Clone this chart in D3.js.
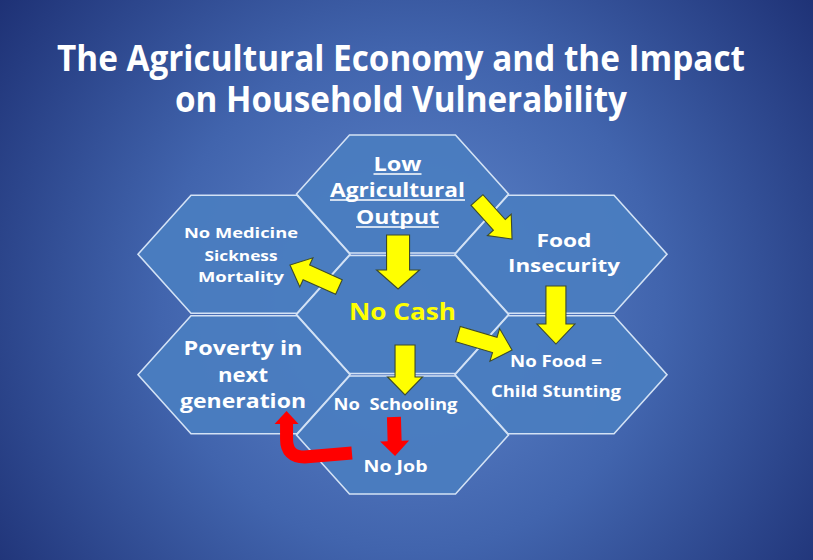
<!DOCTYPE html>
<html>
<head>
<meta charset="utf-8">
<script src="https://cdn.jsdelivr.net/npm/d3@7/dist/d3.min.js"></script>
<style>
html,body{margin:0;padding:0;background:#fff;}
svg{display:block;}
</style>
</head>
<body>
<svg id="chart" width="813" height="560"></svg>
<script>
// ---------------- DATA ----------------
const titleLines = ["The Agricultural Economy and the Impact", "on Household Vulnerability"];
const nodeNames = ["Low Agricultural Output", "No Medicine Sickness Mortality", "Food Insecurity",
                   "No Cash", "Poverty in next generation", "No Food = Child Stunting", "No Schooling / No Job"];
const nodeLines = [["Low", "Agricultural", "Output"], ["No Medicine", "Sickness", "Mortality"],
                   ["Food", "Insecurity"], ["No Cash"], ["Poverty in", "next", "generation"],
                   ["No Food =", "Child Stunting"], ["No  Schooling", "No Job"]];
// honeycomb grid position of each hexagon (column, half-row)
const nodeCol = [0, -1, 1, 0, -1, 1, 0];
const nodeRow = [0, 1, 1, 2, 3, 3, 4];
// causal links: [from, to, colour]
const links = [
  ["Low Agricultural Output", "No Cash", "yellow"],
  ["Low Agricultural Output", "Food Insecurity", "yellow"],
  ["No Cash", "No Medicine Sickness Mortality", "yellow"],
  ["No Cash", "No Food = Child Stunting", "yellow"],
  ["Food Insecurity", "No Food = Child Stunting", "yellow"],
  ["No Cash", "No Schooling / No Job", "yellow"],
  ["No Schooling", "No Job", "red"],
  ["No Job", "Poverty in next generation", "red"]
];
// arrow tail / tip in grid units [col, row]
const linkTail = [[-0.028, 0.680], [0.470, 0.100], [-0.401, 1.544], [0.350, 2.324], [0.968, 1.527], [0.016, 2.506], [-0.054, 3.701], [-0.319, 4.299]];
const linkTip  = [[-0.028, 1.577], [0.691, 0.747], [-0.710, 1.178], [0.691, 2.589], [0.968, 2.490], [0.016, 3.336], [-0.047, 4.349], [-0.741, 3.602]];

// ---------------- LAYOUT / STYLE ----------------
const W = 813, H = 560;
const svg = d3.select("#chart");
const x = d3.scaleLinear().domain([-1, 1]).range([244, 561]);
const y = d3.scaleLinear().domain([0, 4]).range([194, 435]);

const defs = svg.append("defs");
const bg = defs.append("radialGradient").attr("id", "bg")
  .attr("gradientUnits", "userSpaceOnUse").attr("cx", 410).attr("cy", 300).attr("r", 560);
bg.append("stop").attr("offset", 0).attr("stop-color", "#6088cd");
bg.append("stop").attr("offset", 0.45).attr("stop-color", "#4164ad");
bg.append("stop").attr("offset", 1).attr("stop-color", "#17276a");
svg.append("rect").attr("width", W).attr("height", H).attr("fill", "url(#bg)");

// title
const titleY = [71, 112], titleLen = [688, 452];
svg.append("g").selectAll("text").data(titleLines).join("text")
  .attr("x", 401).attr("y", (d, i) => titleY[i])
  .attr("text-anchor", "middle")
  .attr("textLength", (d, i) => titleLen[i]).attr("lengthAdjust", "spacingAndGlyphs")
  .attr("fill", "#ffffff")
  .style("font-family", "'Open Sans', sans-serif").style("font-weight", 700).style("font-size", "36px")
  .text(d => d);

// hexagons
const hw = 106, hh = 59, ins = 53;
function hexPath(cx, cy) {
  const p = [[cx - hw, cy], [cx - hw + ins, cy - hh], [cx + hw - ins, cy - hh], [cx + hw, cy],
             [cx + hw - ins, cy + hh], [cx - hw + ins, cy + hh]];
  return "M" + p.map(q => q.join(",")).join("L") + "Z";
}
const nodes = nodeNames.map((n, i) => ({name: n, lines: nodeLines[i], cx: x(nodeCol[i]), cy: y(nodeRow[i])}));
svg.append("g").selectAll("path").data(nodes).join("path")
  .attr("d", d => hexPath(d.cx, d.cy))
  .attr("fill", "#4a7dc0").attr("fill-opacity", 0.96)
  .attr("stroke", "#d3e2f5").attr("stroke-width", 1.6);

// text styling per hexagon: [dx, baseline offsets, widths, size, colour]
const txt = [
  {dx: -5, dy: [-23, 3, 30], w: [48, 135, 83], fs: 19, col: "#fff", ul: true},
  {dx: -3, dy: [-16, 7, 28], w: [114, 73, 86], fs: 14.5, col: "#fff"},
  {dx: 3, dy: [-7, 18], w: [55, 112], fs: 18, col: "#fff"},
  {dx: 0, dy: [5], w: [107], fs: 24, col: "#ffff00"},
  {dx: -1, dy: [-20, 7, 33], w: [119, 50, 126], fs: 19, col: "#fff"},
  {dx: -5, dy: [-8, 22], w: [92, 130], fs: 16, col: "#fff"},
  {dx: -7, dy: [-25, 37], w: [124, 64], fs: 16, col: "#fff"}
];
const tg = svg.append("g").style("font-family", "'Open Sans', sans-serif").style("font-weight", 700);
nodes.forEach((n, i) => {
  const s = txt[i];
  n.lines.forEach((line, j) => {
    const tx = n.cx + s.dx, ty = n.cy + s.dy[j];
    tg.append("text").attr("x", tx).attr("y", ty).attr("text-anchor", "middle")
      .attr("textLength", s.w[j]).attr("lengthAdjust", "spacingAndGlyphs")
      .attr("fill", s.col).style("font-size", s.fs + "px").style("white-space", "pre")
      .text(line);
    if (s.ul) {
      tg.append("line").attr("x1", tx - s.w[j] / 2).attr("x2", tx + s.w[j] / 2)
        .attr("y1", ty + 3).attr("y2", ty + 3).attr("stroke", "#fff").attr("stroke-width", 1.6);
    }
  });
});

// arrows
const shaftW = [23, 16, 16, 16, 20, 20, 14];
const headW  = [43, 32, 32, 34, 38, 35, 29];
const headL  = [19, 19, 18, 18, 20, 18, 15];
function blockArrow(t, h, sw, hwid, hl) {
  const dx = h[0] - t[0], dy = h[1] - t[1], L = Math.hypot(dx, dy);
  const ux = dx / L, uy = dy / L, nx = -uy, ny = ux;
  const bx = h[0] - ux * hl, by = h[1] - uy * hl;
  const pts = [
    [t[0] + nx * sw / 2, t[1] + ny * sw / 2], [bx + nx * sw / 2, by + ny * sw / 2],
    [bx + nx * hwid / 2, by + ny * hwid / 2], h,
    [bx - nx * hwid / 2, by - ny * hwid / 2], [bx - nx * sw / 2, by - ny * sw / 2],
    [t[0] - nx * sw / 2, t[1] - ny * sw / 2]];
  return "M" + pts.map(p => p.join(",")).join("L") + "Z";
}
const ag = svg.append("g");
links.forEach((lk, i) => {
  const t = [x(linkTail[i][0]), y(linkTail[i][1])];
  const h = [x(linkTip[i][0]), y(linkTip[i][1])];
  const fill = lk[2] === "yellow" ? "#ffff00" : "#ff0000";
  if (i < 7) {
    ag.append("path").attr("d", blockArrow(t, h, shaftW[i], headW[i], headL[i]))
      .attr("fill", fill)
      .attr("stroke", lk[2] === "yellow" ? "#3d4a2c" : "none").attr("stroke-width", 1.1)
      .attr("stroke-linejoin", "miter");
  } else {
    // bent red arrow: horizontal bar, rounded corner, then up
    const hx = h[0] + 1.5, r = 18;
    const baseY = h[1] + 13;
    const cornerY = t[1] + 4;
    const p = d3.path();
    p.moveTo(t[0], t[1]);
    p.lineTo(hx + r, cornerY);
    p.quadraticCurveTo(hx, cornerY, hx, cornerY - r);
    p.lineTo(hx, baseY - 1);
    ag.append("path").attr("d", p.toString()).attr("fill", "none")
      .attr("stroke", fill).attr("stroke-width", 13);
    ag.append("path").attr("d", `M${hx - 12},${baseY}L${hx + 12},${baseY}L${hx},${h[1]}Z`).attr("fill", fill);
  }
});
</script>
</body>
</html>
